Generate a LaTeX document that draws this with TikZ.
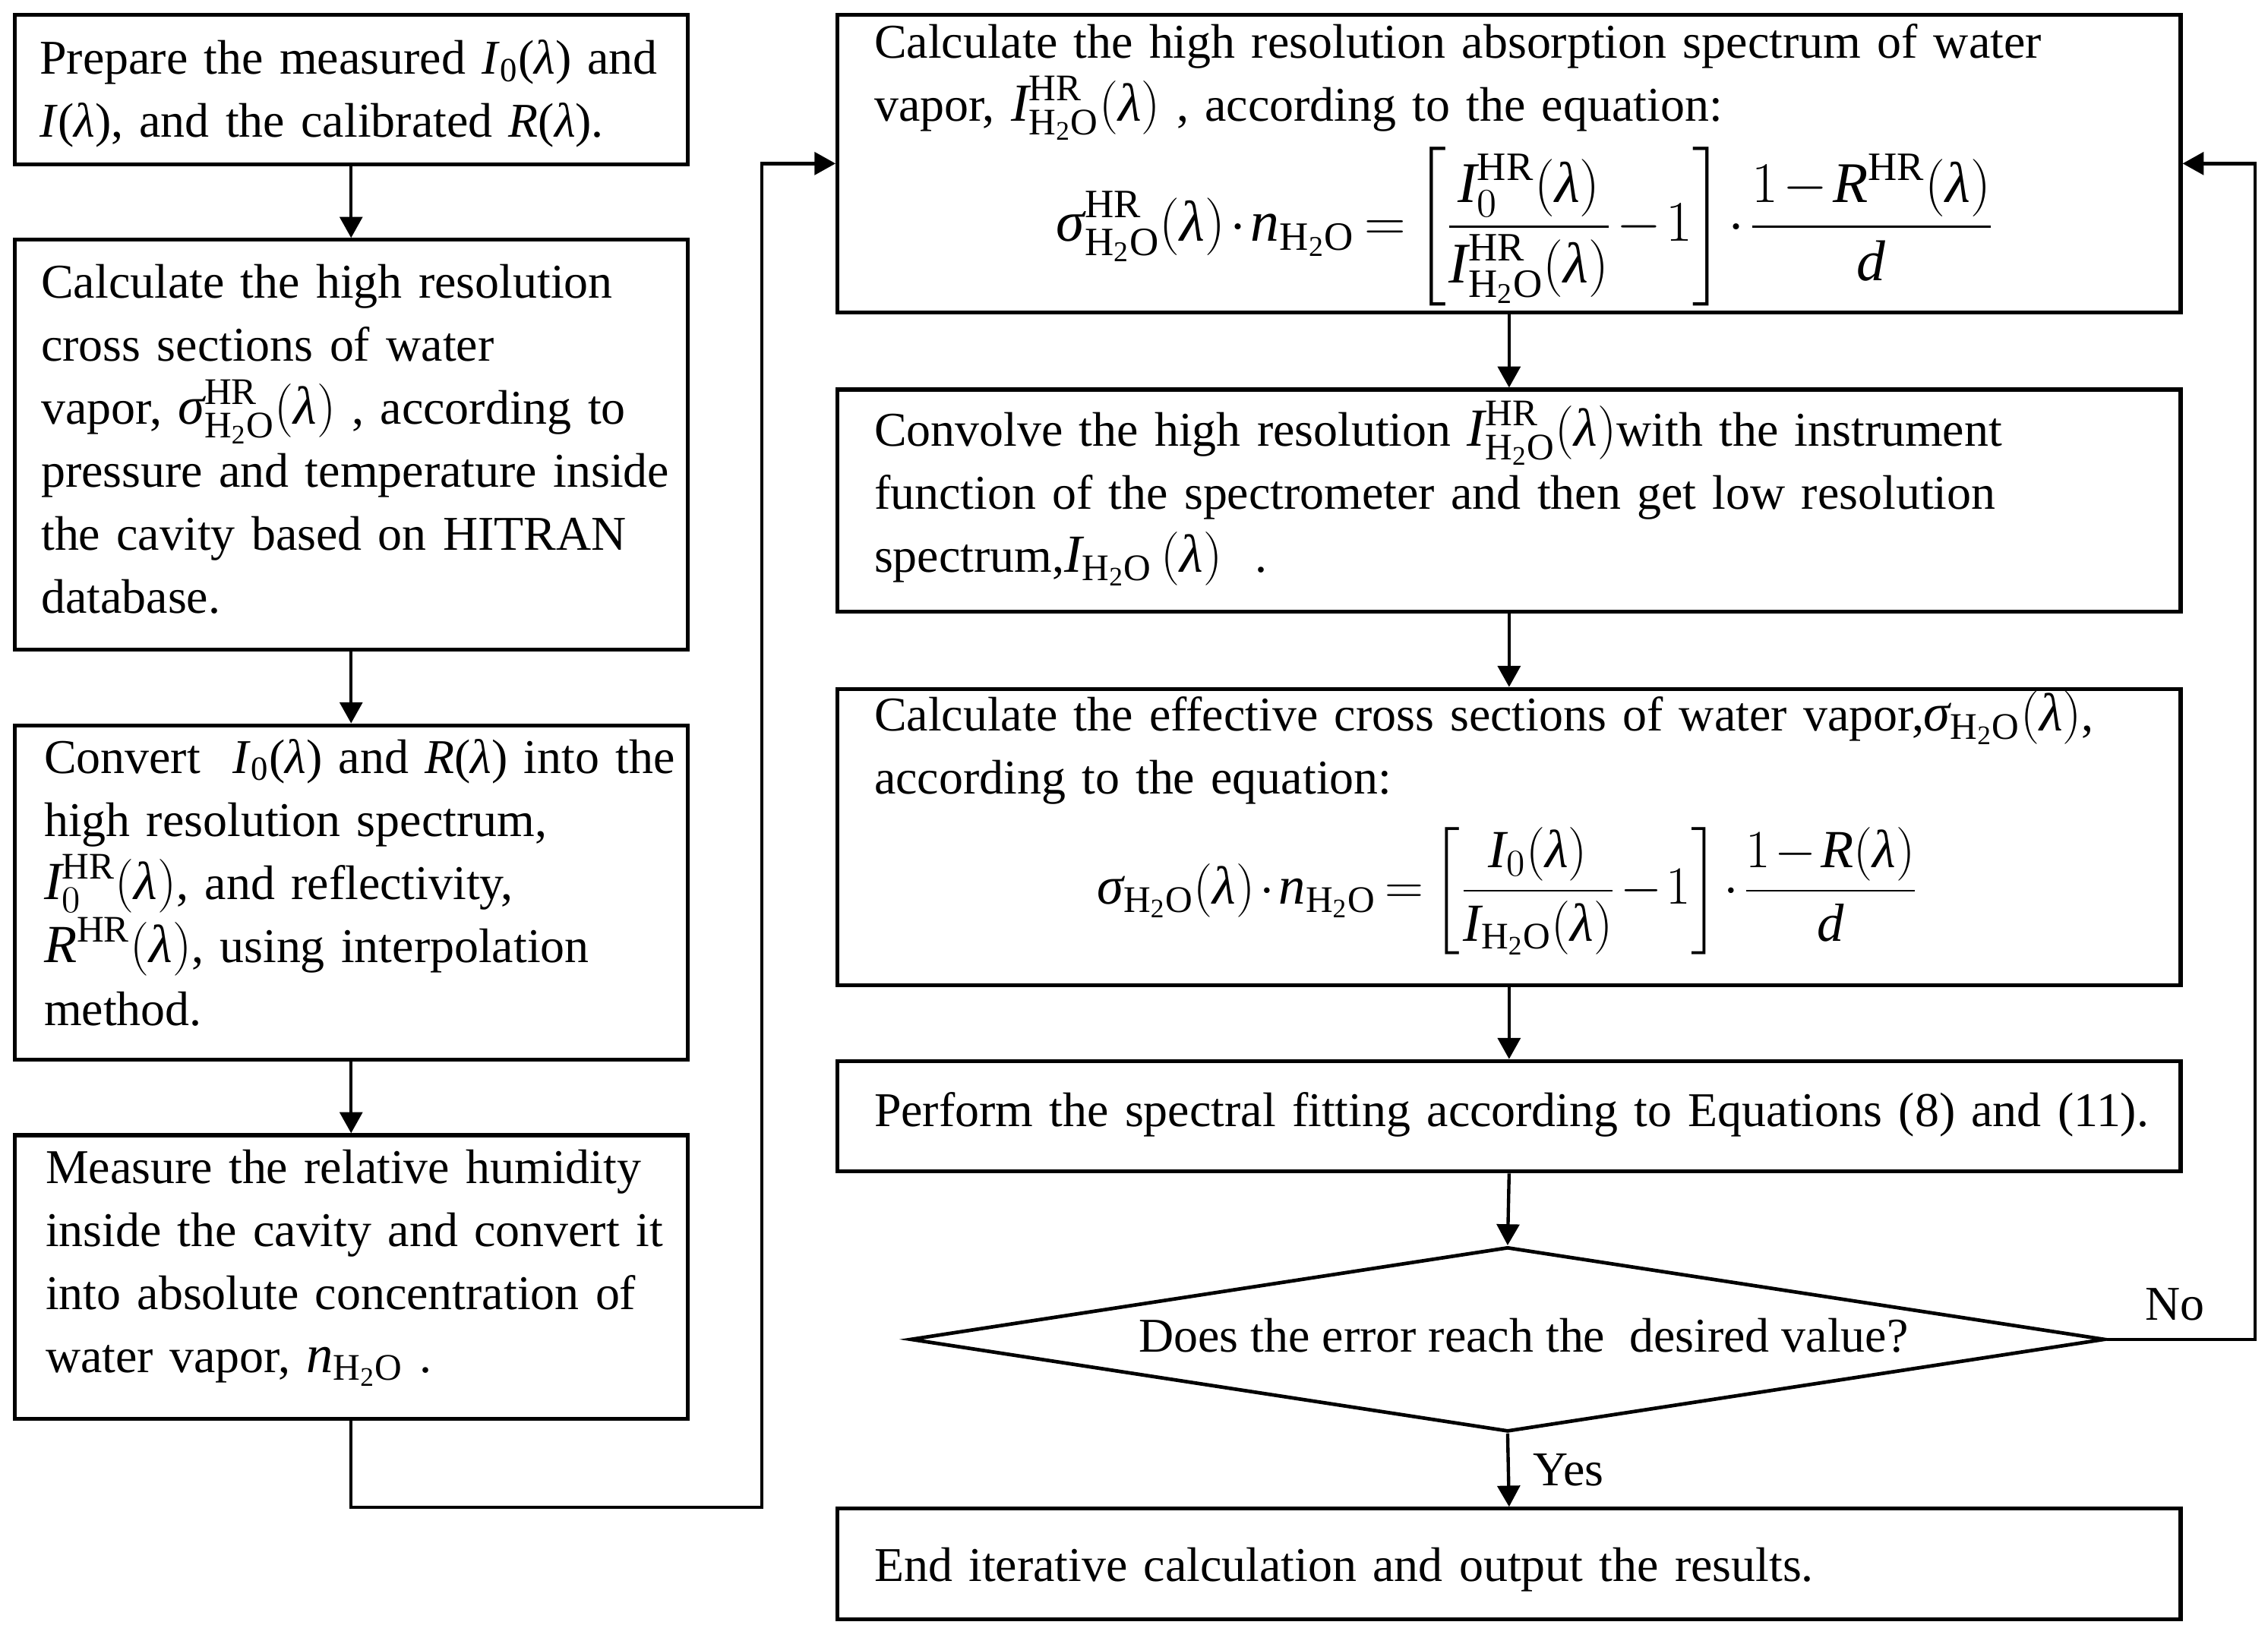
\documentclass[tikz,border=0pt]{standalone}
\usepackage{fix-cm}
\usepackage{amsmath}
\usepackage{fontspec}
\setmainfont{Liberation Serif}
\usetikzlibrary{shapes.geometric,arrows.meta}
\newcommand{\lam}{\textit{λ}}
\newcommand{\wat}{\mathrm{H_2O}}
\newcommand{\hr}{\mathrm{HR}}
\newcommand{\iv}[1]{\textit{#1}}
\newcommand{\tfont}{\fontsize{19}{24.7}\selectfont\lineskiplimit=-100pt\relax\lineskip=0pt\relax}
\newcommand{\mt}[1]{{\fontsize{21}{24.7}\selectfont$#1$}}
\newcommand{\tightmath}{\medmuskip=1.5mu\relax\thickmuskip=3mu\relax\thinmuskip=2mu\relax}
\tikzset{
  bx/.style n args={2}{draw, line width=1.55pt, minimum width=#1, minimum height=#2, inner sep=0pt},
  dia/.style n args={2}{draw, diamond, line width=1.4pt, minimum width=#1, minimum height=#2, shape aspect=6.47, inner sep=0pt},
  txt/.style={font=\tfont, anchor=base west, align=left, text width=#1, inner sep=0pt},
  lbl/.style={font=\tfont, anchor=base, inner sep=0pt},
  arr/.style={line width=1.3pt, -{Triangle[length=0.29cm,width=0.31cm]}},
}
\begin{document}
\begin{tikzpicture}[x=0.02cm,y=-0.02cm]
\useasboundingbox (0,0) rectangle (1560,1117.5);
% left column boxes
\node[bx={9.26cm}{2.06cm}] (b1) at (241.5,61.5) {};
\node[bx={9.26cm}{5.64cm}] (b2) at (241.5,306) {};
\node[bx={9.26cm}{4.6cm}] (b3) at (241.5,614) {};
\node[bx={9.26cm}{3.9cm}] (b4) at (241.5,878.5) {};
% right column boxes
\node[bx={18.48cm}{4.1cm}] (r1) at (1038,112.5) {};
\node[bx={18.48cm}{3.06cm}] (r2) at (1038,344.5) {};
\node[bx={18.48cm}{4.08cm}] (r3) at (1038,576) {};
\node[bx={18.48cm}{1.52cm}] (r4) at (1038,768) {};
\node[dia={16.44cm}{2.54cm}] (d1) at (1037,921.5) {};
\node[bx={18.48cm}{1.52cm}] (r5) at (1038,1076) {};
% texts
\node[txt=9.2cm] (t1) at (27,51) {Prepare the measured \iv{I}\textsubscript{0}(\iv{λ}) and\\ \iv{I}(\iv{λ}), and the calibrated \iv{R}(\iv{λ}).};
\node[txt=9.2cm] (t2) at (28,205) {Calculate the high resolution\\ cross sections of water\\ vapor, \mt{\iv{σ}^{\hr}_{\wat}(\lam)} , according to\\ pressure and temperature inside\\ the cavity based on HITRAN\\ database.};
\node[txt=9.2cm] (t3) at (30,532) {Convert~ \iv{I}\textsubscript{0}(\iv{λ}) and \iv{R}(\iv{λ}) into the\\ high resolution spectrum,\\ \mt{\iv{I}_0^{\hr}(\lam)}, and reflectivity,\\ \mt{\iv{R}^{\hr}(\lam)}, using interpolation\\ method.};
\node[txt=9.2cm] (t4) at (31,814) {Measure the relative humidity\\ inside the cavity and convert it\\ into absolute concentration of\\ water vapor, \mt{\iv{n}_{\wat}} .};
\node[txt=18.3cm] (t5) at (601,40) {Calculate the high resolution absorption spectrum of water\\ vapor, \smash[b]{\mt{\iv{I}^{\hr}_{\wat}(\lam)}} , according to the equation:};
\node[lbl, font=\fontsize{22.5}{26}\selectfont\tightmath] (e1) at (1049,166) {$\displaystyle \iv{σ}^{\hr}_{\wat}(\lam)\cdot \iv{n}_{\wat} = \left[\frac{\iv{I}_0^{\hr}(\lam)}{\iv{I}^{\hr}_{\wat}(\lam)} - 1\right]\cdot\frac{1-\iv{R}^{\hr}(\lam)}{\iv{d}}$};
\node[txt=18.3cm] (t6) at (601,307) {Convolve the high resolution \mt{\iv{I}^{\hr}_{\wat}(\lam)}with the instrument\\ function of the spectrometer and then get low resolution\\ spectrum,\mt{\iv{I}_{\wat}\,(\lam)}~ .};
\node[txt=18.3cm] (t7) at (601,503) {Calculate the effective cross sections of water vapor,\mt{\iv{σ}_{\wat}(\lam)},\\ according to the equation:};
\node[lbl, font=\fontsize{21}{26}\selectfont\tightmath] (e3) at (1037,622) {$\displaystyle \iv{σ}_{\wat}(\lam)\cdot \iv{n}_{\wat} = \left[\frac{\iv{I}_0(\lam)}{\iv{I}_{\wat}(\lam)} - 1\right]\cdot\frac{1-\iv{R}(\lam)}{\iv{d}}$};
\node[txt=18.3cm] (t8) at (601,775) {Perform the spectral fitting according to Equations (8) and (11).};
\node[lbl] (t9) at (1048,930) {Does the error reach the~ desired value?};
\node[txt=18.3cm] (t10) at (601,1088) {End iterative calculation and output the results.};
\node[lbl] (no) at (1496,908) {No};
\node[lbl] (yes) at (1079,1022) {Yes};
% connectors
\coordinate (lb) at (241.5,1037);
\coordinate (lr) at (524,1037);
\coordinate (nr) at (1551,921.5);
\draw[arr] (b1.south) -- (b2.north);
\draw[arr] (b2.south) -- (b3.north);
\draw[arr] (b3.south) -- (b4.north);
\draw[arr] (b4.south) -- (lb) -- (lr) |- (r1.west);
\draw[arr] (r1.south) -- (r2.north);
\draw[arr] (r2.south) -- (r3.north);
\draw[arr] (r3.south) -- (r4.north);
\draw[arr] (r4.south) -- (d1.north);
\draw[arr] (d1.south) -- (r5.north);
\draw[arr] (d1.east) -- (nr) |- (r1.east);
\end{tikzpicture}
\end{document}
